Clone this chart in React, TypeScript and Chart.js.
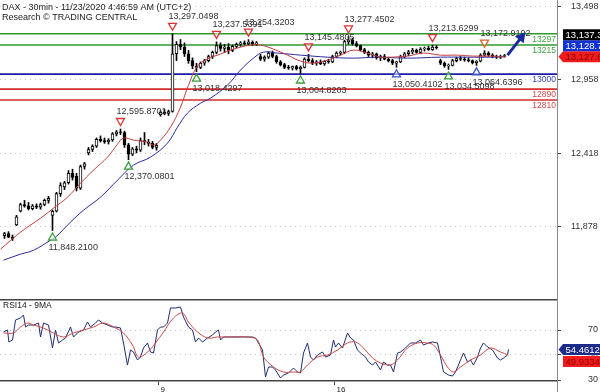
import React, { useEffect, useRef } from 'react';
import { Chart, registerables } from 'chart.js';

Chart.register(...registerables);

// ---------------- data ----------------
const opens = [
  11810, 11825, 11800, 11890, 11990, 12040, 12030, 12010, 12030, 12020,
  12040, 12070, 11960, 11990, 12120, 12170, 12200, 12270, 12250, 12160,
  12320, 12420, 12445, 12470, 12520, 12510, 12500, 12515, 12560, 12575,
  12570, 12480, 12410, 12450, 12440, 12510, 12500, 12490, 12460, 12700,
  12720, 12710, 12725, 13150, 13220, 13200, 13150, 13100, 13060, 13050,
  13080, 13100, 13130, 13160, 13210, 13190, 13200, 13175, 13205, 13220,
  13230, 13225, 13235, 13220, 13130, 13110, 13125, 13155, 13130, 13090,
  13070, 13050, 13045, 13055, 13040, 13050, 13110, 13100, 13080, 13090,
  13075, 13095, 13090, 13130, 13155, 13160, 13240, 13250, 13225, 13210,
  13180, 13160, 13140, 13150, 13120, 13130, 13110, 13100, 13080, 13090,
  13130, 13150, 13165, 13175, 13160, 13185, 13190, 13180, 13200, 13100,
  13080, 13060, 13065, 13100, 13115, 13110, 13105, 13100, 13085, 13095,
  13140, 13155, 13140, 13130, 13125, 13130,
];
const highs = [
  11835, 11840, 11815, 11960, 12050, 12070, 12055, 12040, 12045, 12050,
  12080, 12100, 12000, 12130, 12200, 12210, 12290, 12300, 12270, 12330,
  12350, 12460, 12480, 12530, 12545, 12530, 12525, 12570, 12585, 12595.8701,
  12580, 12490, 12460, 12470, 12530, 12570, 12520, 12505, 12490, 12730,
  12740, 12735, 13297.0498, 13240, 13255, 13230, 13175, 13120, 13080, 13090,
  13110, 13140, 13170, 13237.5391, 13230, 13220, 13225, 13215, 13230, 13240,
  13245, 13254.3203, 13245, 13240, 13145, 13135, 13165, 13170, 13140, 13100,
  13080, 13065, 13060, 13065, 13060, 13120, 13145.4805, 13115, 13100, 13105,
  13100, 13110, 13140, 13165, 13170, 13250, 13277.4502, 13265, 13240, 13215,
  13190, 13170, 13160, 13155, 13140, 13145, 13125, 13110, 13095, 13140,
  13160, 13175, 13190, 13185, 13195, 13200, 13205, 13213.6299, 13210, 13110,
  13090, 13075, 13110, 13125, 13130, 13125, 13120, 13105, 13100, 13150,
  13172.9102, 13165, 13150, 13140, 13140, 13145,
];
const lows = [
  11790, 11795, 11775, 11885, 11985, 12020, 12000, 12000, 12010, 12005,
  12030, 12050, 11848.21, 11985, 12100, 12150, 12190, 12220, 12140, 12150,
  12300, 12405, 12430, 12460, 12500, 12490, 12485, 12505, 12545, 12555,
  12460, 12370.0801, 12400, 12420, 12430, 12480, 12470, 12450, 12440, 12690,
  12700, 12695, 12720, 13100, 13180, 13130, 13080, 13040, 13018.4297, 13040,
  13065, 13090, 13115, 13150, 13170, 13160, 13150, 13165, 13195, 13205,
  13215, 13215, 13210, 13210, 13100, 13095, 13115, 13120, 13080, 13060,
  13040, 13035, 13030, 13030, 13004.8203, 13045, 13090, 13070, 13065, 13070,
  13065, 13080, 13085, 13120, 13140, 13150, 13220, 13215, 13200, 13170,
  13150, 13130, 13120, 13110, 13100, 13105, 13090, 13070, 13050.4102, 13085,
  13120, 13135, 13150, 13155, 13150, 13170, 13175, 13175, 13185, 13070,
  13050, 13034.5098, 13060, 13090, 13100, 13095, 13090, 13075, 13064.6396, 13090,
  13130, 13130, 13120, 13115, 13115, 13125,
];
const closes = [
  11825, 11800, 11790, 11950, 12040, 12030, 12010, 12030, 12020, 12040,
  12070, 12085, 11990, 12120, 12180, 12200, 12270, 12240, 12160, 12320,
  12340, 12445, 12470, 12520, 12510, 12500, 12515, 12560, 12575, 12570,
  12480, 12410, 12450, 12440, 12510, 12500, 12490, 12460, 12475, 12720,
  12710, 12725, 13150, 13220, 13200, 13150, 13100, 13060, 13050, 13080,
  13100, 13130, 13160, 13210, 13190, 13200, 13175, 13205, 13220, 13230,
  13225, 13235, 13220, 13230, 13110, 13125, 13155, 13130, 13090, 13070,
  13050, 13045, 13055, 13040, 13050, 13110, 13100, 13080, 13090, 13075,
  13095, 13090, 13130, 13155, 13160, 13240, 13250, 13225, 13210, 13180,
  13160, 13140, 13150, 13120, 13130, 13110, 13100, 13080, 13090, 13130,
  13150, 13165, 13175, 13160, 13185, 13190, 13180, 13200, 13195, 13080,
  13060, 13065, 13100, 13115, 13110, 13105, 13100, 13085, 13095, 13140,
  13155, 13140, 13130, 13125, 13130, 13137.3496,
];

// moving averages (bar index, price)
const maRedX = [-1, 4, 9, 12.25, 15.75, 19, 22.25, 25.75, 28.25, 29.75, 32.25, 35.75, 37.25, 39, 41.5, 44, 46, 48.25, 50.75, 54, 57.25, 61.5, 64, 67.25, 70.75, 74, 77.25, 80.75, 84, 87.25, 90.75, 94, 96.5, 100.75, 104.75, 109, 113.25, 117.25, 121.5, 125];
const maRedY = [11711, 11836, 11939, 12013, 12094, 12197, 12293, 12389, 12484, 12529, 12514, 12499, 12477, 12514, 12610, 12757, 12919, 13059, 13111, 13148, 13184, 13214, 13214, 13184, 13140, 13096, 13081, 13103, 13140, 13177, 13155, 13125, 13125, 13133, 13155, 13140, 13140, 13133, 13133, 13127.6318];
const maBlueX = [-0.25, 4, 7.25, 11.5, 12.75, 16.5, 19.75, 24, 28.25, 32.25, 36.5, 40.75, 43.25, 45.75, 49, 51.5, 55.75, 59, 62.25, 64.75, 68.25, 74, 80.75, 87.25, 93.25, 100.75, 109, 115.75, 121.5, 125];
const maBlueY = [11630, 11674, 11703, 11777, 11799, 11910, 11998, 12094, 12219, 12330, 12389, 12492, 12610, 12713, 12786, 12823, 12919, 13030, 13118, 13162, 13155, 13140, 13125, 13118, 13125, 13118, 13125, 13125, 13125, 13128.7246];

// RSI(14) and its 9MA
const rsiX = [-0.25, 0.75, 1.1, 2, 2.75, 4, 4.75, 5.25, 6, 7.25, 8.5, 9, 9.75, 11, 12, 12.75, 13.5, 14.5, 15.25, 16.5, 17.25, 18.5, 19.75, 20.75, 21.5, 22.75, 23.5, 24.5, 25.75, 27, 27.75, 29, 29.75, 30.75, 31.5, 32.25, 33.25, 34, 34.75, 35.75, 36.5, 37.25, 38.25, 39, 39.75, 40.75, 41.5, 42.75, 44, 44.75, 46, 47, 47.75, 48.5, 49.5, 50.75, 52, 52.75, 53.5, 54, 54.75, 56, 59, 62, 62.75, 63.5, 64.5, 65.25, 66, 67, 67.75, 69, 69.75, 71, 72.25, 73.25, 74, 74.75, 75.75, 76.5, 77.25, 78.25, 79.5, 80.25, 81.5, 82.25, 82.75, 83.5, 84.5, 85.75, 86.5, 87.25, 88.25, 89, 90.25, 91, 92, 92.75, 94, 94.75, 95.75, 96.5, 97.25, 98.25, 99, 100.25, 101.5, 102.75, 104, 104.75, 106, 107, 108.25, 109, 109.75, 111, 112, 112.75, 114, 114.75, 115.75, 116.5, 117.25, 118.25, 119, 119.75, 120.75, 122, 123.25, 124, 124.75, 125.75, 126];
const rsiY = [68.4, 70, 60.4, 62, 78, 79.6, 82, 72.4, 74, 74, 75.6, 64.4, 75.6, 74, 55.6, 70, 59.6, 62, 63.6, 72.4, 64.4, 68.4, 70, 76.4, 72.4, 75.6, 78, 75.6, 74, 72.4, 72.4, 71.6, 59.6, 42, 54, 52.4, 46, 48.4, 55.6, 59.6, 52.4, 51.6, 70, 72.4, 72.4, 75.6, 87.6, 87.6, 88.4, 80.4, 72.4, 70, 60.4, 63.6, 60.4, 63.6, 66, 68.4, 70, 62, 64.4, 64.4, 64.4, 64.4, 63.6, 59.6, 54, 32.4, 40.4, 40.4, 38, 31.6, 34, 35.6, 39.6, 36.4, 35.6, 51.6, 59.6, 48.4, 46, 50, 52.4, 48.4, 50, 62, 56.4, 59.6, 55.6, 67.6, 63.6, 62, 54, 51.6, 48.4, 44.4, 42, 44.4, 38, 44.4, 42, 42, 36.4, 51.6, 52.4, 55.6, 59.6, 59.6, 62, 58, 59.6, 60.4, 59.6, 48.4, 36.4, 34, 33.2, 36.4, 46, 51.6, 44.4, 46, 42, 48.4, 55.6, 59.6, 56.4, 54, 47.6, 46, 47.6, 50, 54.4612];
const rsiMaX = [-0.25, 2.25, 4, 5.75, 7.25, 9.75, 12.25, 14.75, 17.25, 19.75, 22.25, 24.75, 27.25, 29.75, 32, 33.5, 35.75, 37.75, 39.75, 42.25, 44.5, 46, 48.25, 50.75, 53.25, 56.5, 60.75, 63.25, 64.75, 67.25, 69.75, 72.25, 74, 75.75, 78.25, 80.75, 83.25, 85.75, 87.75, 89.75, 92, 94, 96.5, 98.25, 100.75, 103.25, 105.75, 107.25, 109, 110.75, 112.25, 114, 116.5, 119, 121.5, 124, 126];
const rsiMaY = [67.6, 67.6, 72.4, 75.6, 74, 71.6, 67.6, 64.4, 67.6, 70, 72.4, 75.6, 72.4, 67.6, 58, 48.4, 52.4, 59.6, 68.4, 79.6, 83.6, 76.4, 68.4, 63.6, 64.4, 64.4, 64.4, 62, 48.4, 40.4, 36.4, 36.4, 36.4, 42, 48.4, 50, 54, 59.6, 60.4, 55.6, 47.6, 43.6, 42, 46, 55.6, 59.6, 59.6, 58, 50, 40.4, 36.4, 40.4, 46, 50, 55.6, 52.4, 49.9334];

// axes
const priceTicks = [11878, 12418, 12958, 13498];
const rsiTicks = [30, 50, 70];
const dateTickPos = [38.5, 82.5];
const dateTickLabels = ['9', '16'];

// support / resistance levels
const levelValues = [13297, 13215, 13000, 12890, 12810];
const levelColors = ['#2e9a2e', '#2e9a2e', '#1c1ca8', '#d82a2a', '#d82a2a'];
const levelTextColors = ['#3f9f3f', '#3f9f3f', '#3545b0', '#cf4a4a', '#cf4a4a'];

// swing signals
const sigIndex = [12, 29, 31, 42, 48, 53, 61, 74, 76, 86, 98, 107, 111, 118, 120];
const sigPrice = [11848.21, 12595.8701, 12370.0801, 13297.0498, 13018.4297, 13237.5391, 13254.3203, 13004.8203, 13145.4805, 13277.4502, 13050.4102, 13213.6299, 13034.5098, 13064.6396, 13172.9102];
const sigKind = ['L', 'H', 'L', 'H', 'L', 'H', 'H', 'L', 'H', 'H', 'L', 'H', 'L', 'L', 'H'];
const sigColor = ['#3a9e3a', '#d93434', '#3a9e3a', '#d93434', '#3a9e3a', '#d93434', '#d93434', '#3a9e3a', '#d93434', '#d93434', '#3552c4', '#d93434', '#3a9e3a', '#3552c4', '#d2662e'];

// forecast arrow (bar index, price)
const arrowX = [125.75, 130.25];
const arrowY = [13140, 13310];

const X_MIN = -1.125;
const X_MAX = 138.125;
const Y_MIN = 11344;
const Y_MAX = 13546;
const RSI_MIN = 29.2;
const RSI_MAX = 94.8;

const FONT = "'Liberation Sans', Arial, Helvetica, sans-serif";
const fmt4 = (v: number) => v.toLocaleString('en-US', { minimumFractionDigits: 4, maximumFractionDigits: 4 });

function drawTag(ctx: any, axisX: number, yc: number, bg: string, fg: string, text: string, arrow: boolean) {
  const h = 11;
  const left = axisX + 6;
  const right = axisX + 60;
  ctx.save();
  ctx.fillStyle = bg;
  ctx.beginPath();
  if (arrow) {
    ctx.moveTo(axisX + 1.5, yc);
    ctx.lineTo(left, yc - h / 2);
    ctx.lineTo(right, yc - h / 2);
    ctx.lineTo(right, yc + h / 2);
    ctx.lineTo(left, yc + h / 2);
    ctx.closePath();
  } else {
    ctx.rect(left, yc - h / 2, right - left, h);
  }
  ctx.fill();
  ctx.fillStyle = fg;
  ctx.font = `9.5px ${FONT}`;
  ctx.textAlign = 'left';
  ctx.textBaseline = 'middle';
  ctx.fillText(text, left + 2.5, yc + 0.5);
  ctx.restore();
}

export default function App() {
  const mainRef = useRef<HTMLCanvasElement | null>(null);
  const rsiRef = useRef<HTMLCanvasElement | null>(null);

  useEffect(() => {
    if (!mainRef.current || !rsiRef.current) return;
    const idx = closes.map((_, i) => i);

    const mainPlugin = {
      id: 'mainDeco',
      beforeDatasetsDraw(chart: any) {
        const { ctx, chartArea: a, scales } = chart;
        const y = scales.y;
        levelValues.forEach((v, k) => {
          const py = y.getPixelForValue(v);
          ctx.save();
          ctx.strokeStyle = levelColors[k];
          ctx.lineWidth = 1.6;
          ctx.beginPath();
          ctx.moveTo(a.left, py);
          ctx.lineTo(a.right, py);
          ctx.stroke();
          ctx.fillStyle = levelTextColors[k];
          ctx.font = `8.5px ${FONT}`;
          ctx.textAlign = 'right';
          ctx.textBaseline = 'top';
          ctx.fillText(String(v), a.right - 1, py + 1.5);
          ctx.restore();
        });
      },
      afterDatasetsDraw(chart: any) {
        const { ctx, scales } = chart;
        const x = scales.x;
        const y = scales.y;
        sigIndex.forEach((i, k) => {
          const px = x.getPixelForValue(i);
          const py = y.getPixelForValue(sigPrice[k]);
          const hi = sigKind[k] === 'H';
          const cy = hi ? py - 7 : py + 6;
          ctx.save();
          ctx.strokeStyle = sigColor[k];
          ctx.lineWidth = 1.3;
          ctx.fillStyle = 'rgba(255,255,255,0.55)';
          ctx.beginPath();
          if (hi) {
            ctx.moveTo(px - 4, cy - 3.5);
            ctx.lineTo(px + 4, cy - 3.5);
            ctx.lineTo(px, cy + 3.5);
          } else {
            ctx.moveTo(px - 4, cy + 3.5);
            ctx.lineTo(px + 4, cy + 3.5);
            ctx.lineTo(px, cy - 3.5);
          }
          ctx.closePath();
          ctx.fill();
          ctx.stroke();
          ctx.fillStyle = '#333';
          ctx.font = `9px ${FONT}`;
          ctx.textAlign = 'left';
          ctx.textBaseline = 'middle';
          ctx.fillText(fmt4(sigPrice[k]), px - 4, hi ? cy - 10 : cy + 11);
          ctx.restore();
        });
        // arrow
        const x1 = x.getPixelForValue(arrowX[0]);
        const y1 = y.getPixelForValue(arrowY[0]);
        const x2 = x.getPixelForValue(arrowX[1]);
        const y2 = y.getPixelForValue(arrowY[1]);
        const ang = Math.atan2(y2 - y1, x2 - x1);
        const hl = 10;
        const hw = 5.5;
        const c = Math.cos(ang);
        const s = Math.sin(ang);
        ctx.save();
        ctx.strokeStyle = '#1b2a9e';
        ctx.fillStyle = '#1b2a9e';
        ctx.lineWidth = 3;
        ctx.beginPath();
        ctx.moveTo(x1, y1);
        ctx.lineTo(x2 - c * hl * 0.8, y2 - s * hl * 0.8);
        ctx.stroke();
        ctx.beginPath();
        ctx.moveTo(x2, y2);
        ctx.lineTo(x2 - c * hl + s * hw, y2 - s * hl - c * hw);
        ctx.lineTo(x2 - c * hl - s * hw, y2 - s * hl + c * hw);
        ctx.closePath();
        ctx.fill();
        ctx.restore();
      },
      afterDraw(chart: any) {
        const { ctx, chartArea: a, scales } = chart;
        const y = scales.y;
        ctx.save();
        ctx.fillStyle = '#222';
        ctx.font = `9px ${FONT}`;
        ctx.textAlign = 'left';
        ctx.textBaseline = 'alphabetic';
        ctx.fillText('DAX - 30min - 11/23/2020 4:46:59 AM (UTC+2)', 2, 10);
        ctx.fillText('Research \u00A9 TRADING CENTRAL', 2, 20);
        ctx.restore();
        const redY = y.getPixelForValue(maRedY[maRedY.length - 1]);
        drawTag(ctx, a.right, redY, '#ee1c1c', '#8a0000', fmt4(maRedY[maRedY.length - 1]), true);
        drawTag(ctx, a.right, redY - 11, '#1030d8', '#ffffff', fmt4(maBlueY[maBlueY.length - 1]), false);
        drawTag(ctx, a.right, redY - 22, '#000000', '#ffffff', fmt4(closes[closes.length - 1]), false);
      },
    };

    const main = new Chart(mainRef.current, {
      type: 'bar',
      data: {
        datasets: [
          {
            type: 'line',
            data: maRedX.map((v, k) => ({ x: v, y: maRedY[k] })),
            borderColor: '#c83c3c',
            borderWidth: 1,
            pointRadius: 0,
            tension: 0.4,
            order: 0,
          } as any,
          {
            type: 'line',
            data: maBlueX.map((v, k) => ({ x: v, y: maBlueY[k] })),
            borderColor: '#2a2aa0',
            borderWidth: 1,
            pointRadius: 0,
            tension: 0.4,
            order: 0,
          } as any,
          {
            type: 'bar',
            data: idx.map((i) => ({ x: i, y: [opens[i], closes[i]] })),
            backgroundColor: idx.map((i) => (closes[i] >= opens[i] ? '#ffffff' : '#000000')),
            borderColor: '#000000',
            borderWidth: 1,
            borderSkipped: false,
            grouped: false,
            barPercentage: 1,
            categoryPercentage: 1,
            maxBarThickness: 3,
            order: 1,
          } as any,
          {
            type: 'bar',
            data: idx.map((i) => ({ x: i, y: [lows[i], highs[i]] })),
            backgroundColor: '#000000',
            borderWidth: 0,
            grouped: false,
            barPercentage: 1,
            categoryPercentage: 1,
            maxBarThickness: 1,
            order: 2,
          } as any,
        ],
      },
      options: {
        responsive: false,
        maintainAspectRatio: false,
        animation: false,
        devicePixelRatio: 1,
        events: [],
        layout: { padding: 0 },
        plugins: { legend: { display: false }, tooltip: { enabled: false }, title: { display: false } },
        scales: {
          x: { type: 'linear', min: X_MIN, max: X_MAX, offset: false, display: false },
          y: {
            type: 'linear',
            position: 'right',
            min: Y_MIN,
            max: Y_MAX,
            afterBuildTicks: (s: any) => { s.ticks = priceTicks.map((v) => ({ value: v })); },
            afterFit: (s: any) => { s.width = 43; s.paddingTop = 0; s.paddingBottom = 0; },
            ticks: {
              padding: 10,
              color: '#333',
              font: { family: FONT, size: 9 },
              callback: (v: any) => Number(v).toLocaleString('en-US'),
            },
            grid: { color: '#c4c4c4', lineWidth: 1, drawTicks: true, tickLength: 4, tickColor: '#444', tickWidth: 1, tickBorderDash: [1, 0] },
            border: { display: true, color: '#8a8a8a', width: 1, dash: [1, 4] },
          },
        },
      } as any,
      plugins: [mainPlugin],
    });

    const rsiPlugin = {
      id: 'rsiDeco',
      afterDraw(chart: any) {
        const { ctx, chartArea: a, scales, height } = chart;
        const y = scales.y;
        ctx.save();
        ctx.strokeStyle = '#444';
        ctx.lineWidth = 1.5;
        ctx.beginPath();
        ctx.moveTo(a.left, 0.75);
        ctx.lineTo(a.right, 0.75);
        ctx.stroke();
        ctx.strokeStyle = '#8a8a8a';
        ctx.lineWidth = 1;
        ctx.beginPath();
        ctx.moveTo(a.right + 0.5, a.bottom);
        ctx.lineTo(a.right + 0.5, height);
        ctx.stroke();
        ctx.fillStyle = '#222';
        ctx.font = `8.5px ${FONT}`;
        ctx.textAlign = 'left';
        ctx.textBaseline = 'alphabetic';
        ctx.fillText('RSI14 - 9MA', 3, 9);
        ctx.restore();
        const rY = y.getPixelForValue(rsiY[rsiY.length - 1]);
        drawTag(ctx, a.right, rY, '#1c2a8c', '#ffffff', rsiY[rsiY.length - 1].toFixed(4), true);
        drawTag(ctx, a.right, rY + 12, '#ee1c1c', '#9a0000', rsiMaY[rsiMaY.length - 1].toFixed(4), false);
      },
    };

    const rsi = new Chart(rsiRef.current, {
      type: 'line',
      data: {
        datasets: [
          {
            data: rsiMaX.map((v, k) => ({ x: v, y: rsiMaY[k] })),
            borderColor: '#cc4a4a',
            borderWidth: 1,
            pointRadius: 0,
            tension: 0.35,
          },
          {
            data: rsiX.map((v, k) => ({ x: v, y: rsiY[k] })),
            borderColor: '#1f2d72',
            borderWidth: 1,
            pointRadius: 0,
            tension: 0,
          },
        ],
      },
      options: {
        responsive: false,
        maintainAspectRatio: false,
        animation: false,
        devicePixelRatio: 1,
        events: [],
        layout: { padding: 0 },
        plugins: { legend: { display: false }, tooltip: { enabled: false }, title: { display: false } },
        scales: {
          x: {
            type: 'linear',
            min: X_MIN,
            max: X_MAX,
            offset: false,
            position: 'bottom',
            afterBuildTicks: (s: any) => { s.ticks = dateTickPos.map((v) => ({ value: v })); },
            afterFit: (s: any) => { s.height = 11; s.paddingLeft = 0; s.paddingRight = 0; },
            ticks: {
              autoSkip: false,
              maxRotation: 0,
              minRotation: 0,
              align: 'start',
              labelOffset: 2,
              padding: 0,
              color: '#222',
              font: { family: FONT, size: 8 },
              callback: (_v: any, k: number) => dateTickLabels[k],
            },
            grid: { drawOnChartArea: false, drawTicks: true, tickLength: 4, tickColor: '#444', tickWidth: 1, color: '#444' },
            border: { display: true, color: '#444', width: 1.5 },
          },
          y: {
            type: 'linear',
            position: 'right',
            min: RSI_MIN,
            max: RSI_MAX,
            afterBuildTicks: (s: any) => { s.ticks = rsiTicks.map((v) => ({ value: v })); },
            afterFit: (s: any) => { s.width = 43; s.paddingTop = 0; s.paddingBottom = 0; },
            ticks: { padding: 27, color: '#333', font: { family: FONT, size: 9 }, callback: (v: any) => String(v) },
            grid: { color: '#c4c4c4', lineWidth: 1, drawTicks: true, tickLength: 4, tickColor: '#444', tickWidth: 1, tickBorderDash: [1, 0] },
            border: { display: true, color: '#8a8a8a', width: 1, dash: [1, 4] },
          },
        },
      } as any,
      plugins: [rsiPlugin],
    });

    return () => {
      main.destroy();
      rsi.destroy();
    };
  }, []);

  return (
    <div style={{ position: 'absolute', left: 0, top: 0, width: 600, height: 392, background: '#ffffff', overflow: 'hidden' }}>
      <canvas ref={mainRef} width={600} height={299} style={{ position: 'absolute', left: 0, top: 0, width: 600, height: 299 }} />
      <canvas ref={rsiRef} width={600} height={93} style={{ position: 'absolute', left: 0, top: 299, width: 600, height: 93 }} />
    </div>
  );
}
